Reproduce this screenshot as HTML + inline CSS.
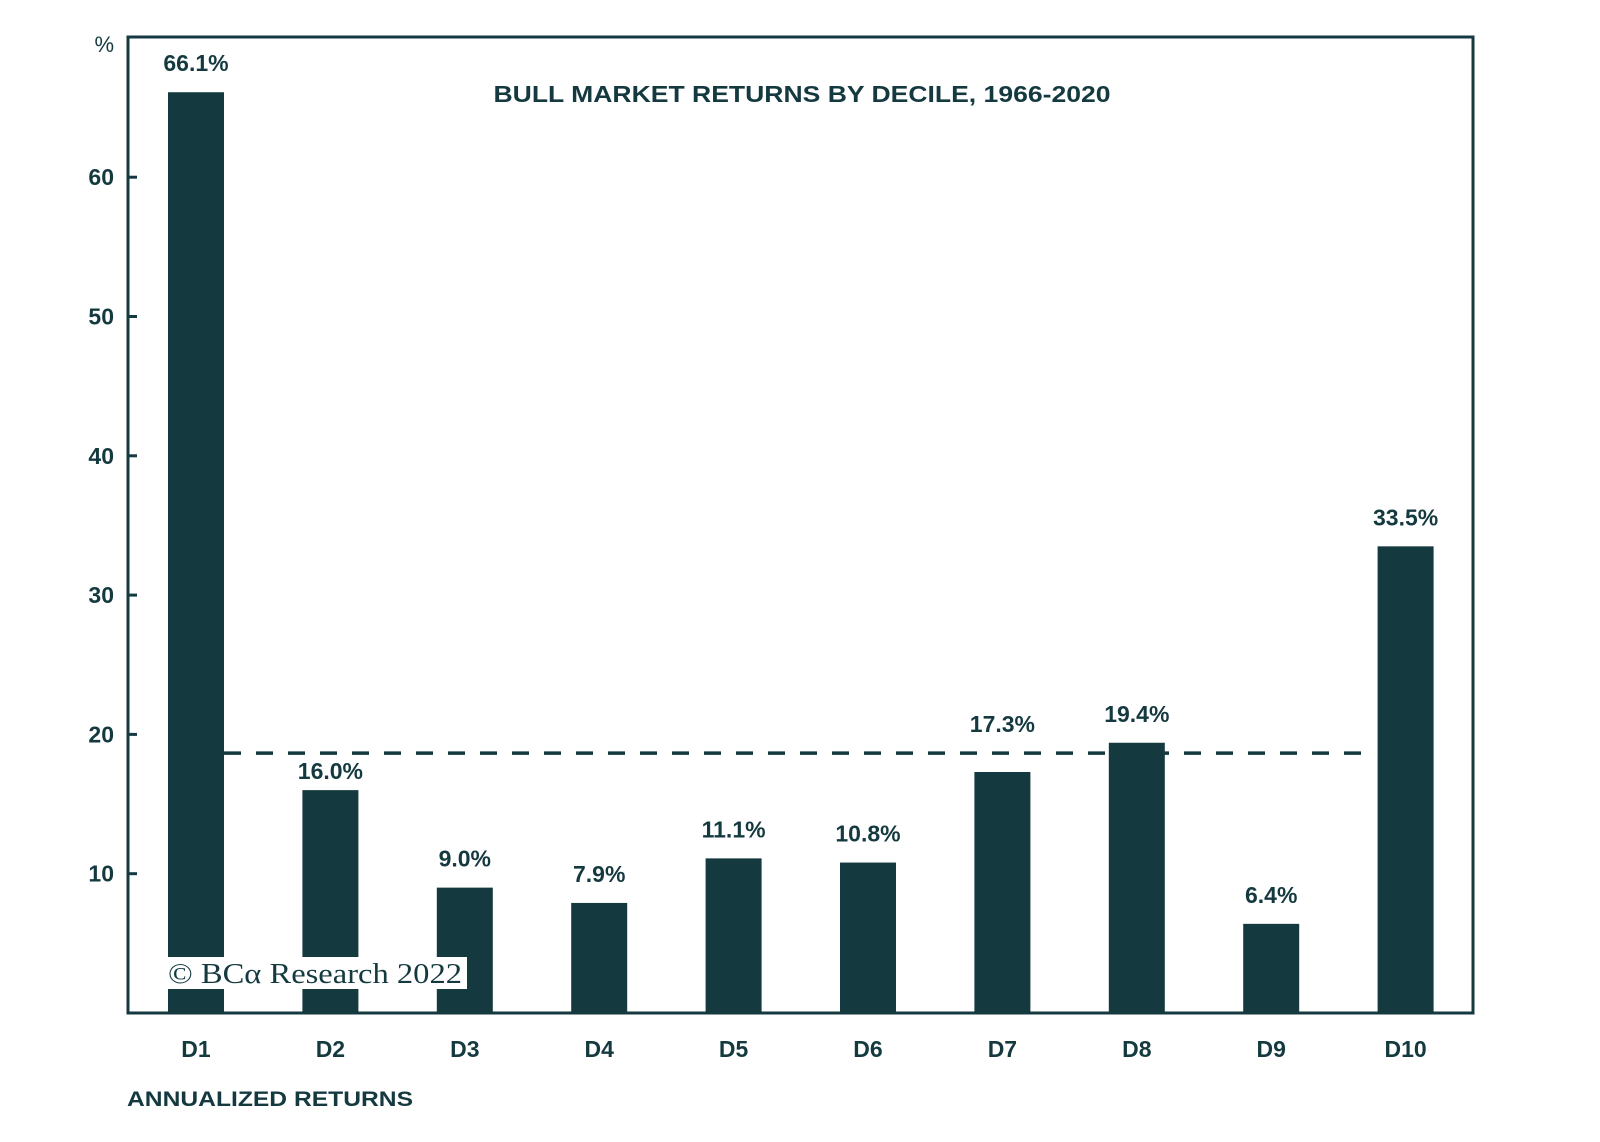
<!DOCTYPE html>
<html><head><meta charset="utf-8"><style>
html,body{margin:0;padding:0;background:#fff;}
svg{display:block;}
text{font-family:"Liberation Sans",sans-serif;fill:#143a40;}
</style></head><body>
<svg id="chart" width="1600" height="1142" viewBox="0 0 1600 1142">
<rect x="128" y="37" width="1345" height="976" fill="#fff" stroke="#143a40" stroke-width="3"/>
<text x="802" y="102" text-anchor="middle" font-size="23" font-weight="bold" textLength="617" lengthAdjust="spacingAndGlyphs">BULL MARKET RETURNS BY DECILE, 1966-2020</text>
<text x="114" y="52" text-anchor="end" font-size="22">%</text>
<g id="yaxis"></g>
<line id="avg" stroke="#143a40" stroke-width="3.5" stroke-dasharray="17,15"/>
<g id="bars"></g>
<g id="xaxis"></g>
<rect x="165" y="957" width="302" height="32" fill="#fff"/>
<text x="168" y="983" style="font-family:'Liberation Serif',serif" font-size="29" textLength="294" lengthAdjust="spacingAndGlyphs">© BCα Research 2022</text>
<text x="127" y="1106" font-size="21" font-weight="bold" textLength="286" lengthAdjust="spacingAndGlyphs">ANNUALIZED RETURNS</text>
</svg>
<script>
const categories = ["D1","D2","D3","D4","D5","D6","D7","D8","D9","D10"];
const values = [66.1,16.0,9.0,7.9,11.1,10.8,17.3,19.4,6.4,33.5];
const valueLabels = ["66.1%","16.0%","9.0%","7.9%","11.1%","10.8%","17.3%","19.4%","6.4%","33.5%"];
const yTicks = [10,20,30,40,50,60];
const averageValue = 18.66;

const NS = "http://www.w3.org/2000/svg";
const y = v => 1013 - v * 13.93;
const x = i => 196 + i * 134.4;
const barW = 56;
function mk(tag, attrs, parent){const e=document.createElementNS(NS,tag);for(const k in attrs)e.setAttribute(k,attrs[k]);parent.appendChild(e);return e;}

const ya = document.getElementById('yaxis');
yTicks.forEach(t=>{
  const l = mk('line',{x1:128,x2:137,y1:y(t),y2:y(t),stroke:'#143a40','stroke-width':3},ya);
  
  
  const tx = mk('text',{x:114,y:y(t)+8,'text-anchor':'end','font-size':23,'font-weight':'bold'},ya);
  tx.textContent = t;
  
  
});

const bg = document.getElementById('bars');
const xa = document.getElementById('xaxis');
const avgY = y(averageValue);
categories.forEach((c,i)=>{
  const top = y(values[i]);
  const r = mk('rect',{x:x(i)-barW/2,y:top,width:barW,height:1013-top,fill:'#143a40'},bg);
  
  
  let ly = top - 21;
  if (ly + 4 > avgY - 2 && ly - 18 < avgY + 2) {
    if (avgY + 26 <= top - 1) ly = avgY + 26;
    else ly = avgY - 21;
  }
  const vl = mk('text',{x:x(i),y:ly,'text-anchor':'middle','font-size':23,'font-weight':'bold'},bg);
  vl.textContent = valueLabels[i];
  
  
  const xl = mk('text',{x:x(i),y:1057,'text-anchor':'middle','font-size':23,'font-weight':'bold'},xa);
  xl.textContent = c;
  
  
});

const avg = document.getElementById('avg');
avg.setAttribute('x1', x(0)+barW/2);
avg.setAttribute('x2', x(9)-barW/2-10);
avg.setAttribute('y1', avgY);
avg.setAttribute('y2', avgY);
</script>
</body></html>
